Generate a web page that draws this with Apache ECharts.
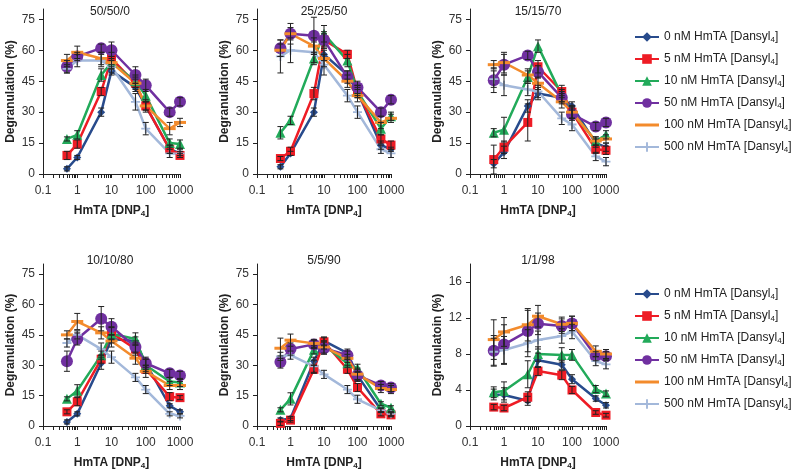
<!DOCTYPE html>
<html>
<head>
<meta charset="utf-8">
<script src="https://cdn.jsdelivr.net/npm/echarts@6/dist/echarts.min.js"></script>
<style>
  html, body { margin: 0; background: #fff; }
  #chart { width: 800px; height: 471px; }
</style>
</head>
<body>
<div id="chart"></div>
<script>
const doses = [0.5, 1, 5, 10, 50, 100, 500, 1000]
const seriesNames = [
  '0 nM HmTA [Dansyl4]',
  '5 nM HmTA [Dansyl4]',
  '10 nM HmTA [Dansyl4]',
  '50 nM HmTA [Dansyl4]',
  '100 nM HmTA [Dansyl4]',
  '500 nM HmTA [Dansyl4]'
]
const panelTitles = ['50/50/0', '25/25/50', '15/15/70', '10/10/80', '5/5/90', '1/1/98']
const xTicks = [0.1, 1, 10, 100, 1000]
const xMinorTicks = [0.2, 0.3, 0.4, 0.5, 0.6, 0.7, 0.8, 0.9, 2, 3, 4, 5, 6, 7, 8, 9,
  20, 30, 40, 50, 60, 70, 80, 90, 200, 300, 400, 500, 600, 700, 800, 900]
const yTicksPct = [0, 15, 30, 45, 60, 75]
const yTicksLow = [0, 4, 8, 12, 16]

// rows follow seriesNames order (0, 5, 10, 50, 100, 500 nM)
const deg50 = [
  [2.5, 8, 30, 50, 42, 33, 12, 10],
  [9, 14.5, 40, 56, 44, 33, 12, 9],
  [17, 19, 48, 54, 45, 38, 15, 14.5],
  [52, 57, 61, 60, 48, 43, 30, 35],
  [55, 59, 56, 54, 44, 33, 22, 25],
  [51, 55, 55, 52, 35, 22, 10, 10]
]
const err50 = [
  [1, 1, 2, 2, 2, 2, 2, 1],
  [2, 2, 2, 3, 2, 2, 2, 1],
  [1, 2, 3, 3, 3, 3, 2, 2],
  [3, 2, 2, 4, 4, 3, 2, 2],
  [3, 3, 3, 3, 3, 3, 3, 2],
  [2, 3, 3, 3, 4, 3, 2, 2]
]
const deg25 = [
  [3.5, 10, 30, 58, 48, 40, 14, 12],
  [7.5, 11, 39, 65, 58, 40, 17, 14],
  [20, 26, 56, 68, 55, 40, 22, 28],
  [61, 68, 67, 65, 47, 42, 30, 36],
  [60, 68, 62, 56, 45, 38, 25, 27],
  [57, 60, 59, 53, 38, 30, 12, 10]
]
const err25 = [
  [1, 1, 2, 3, 2, 2, 2, 1],
  [1, 2, 3, 3, 2, 3, 2, 2],
  [3, 2, 3, 4, 3, 3, 3, 2],
  [4, 3, 9, 4, 3, 3, 2, 2],
  [3, 5, 4, 4, 3, 3, 3, 2],
  [8, 6, 5, 5, 3, 3, 2, 2]
]
const deg15 = [
  [5, 10.5, 33, 39, 37, 33, 15, 13],
  [7, 13, 25, 52, 40, 30, 12, 11.5],
  [20, 21.5, 47, 62, 38, 30, 16, 19],
  [45.5, 53, 57.5, 49.5, 37, 29, 23, 25],
  [53, 54, 48, 44, 35, 30, 16, 17],
  [46, 43, 41, 40, 27, 24, 8.5, 6]
]
const err15 = [
  [2, 3, 3, 3, 2, 2, 2, 2],
  [7, 3, 9, 3, 3, 3, 2, 2],
  [2, 6, 3, 3, 3, 3, 2, 2],
  [6, 5, 2, 3, 3, 3, 2, 2],
  [2, 5, 3, 3, 3, 3, 2, 2],
  [4, 5, 3, 3, 3, 3, 2, 2]
]
const deg10 = [
  [2, 6, 31, 43, 42, 31, 10, 7],
  [7, 12, 33, 46, 38, 28, 14.5, 14],
  [13.4, 17.4, 35, 45.6, 43, 30, 22, 21.5],
  [32, 43, 53, 49, 39, 31, 26, 25],
  [45, 51.6, 46, 42, 33.5, 27, 20, 20],
  [41, 45, 38, 34, 24, 18, 6, 5]
]
const err10 = [
  [1, 1, 3, 2, 2, 2, 1, 1],
  [1, 2, 2, 3, 3, 2, 2, 1],
  [1, 3, 2, 3, 3, 3, 2, 2],
  [5, 3, 6, 4, 3, 3, 2, 2],
  [2, 4, 3, 3, 3, 3, 2, 2],
  [2, 2, 3, 3, 2, 2, 1, 1]
]
const deg5 = [
  [3, 3.7, 32, 42, 36, 25, 8, 6],
  [1.3, 2.9, 28, 41.6, 28, 19, 6, 5.5],
  [8, 13.4, 37.6, 40, 31, 28.5, 11, 9],
  [31.6, 38, 40.3, 38.4, 35, 25, 20, 19],
  [38.4, 42.4, 40.8, 39, 33.4, 25.6, 18.5, 18],
  [34.4, 35, 29.5, 25.5, 18, 13.2, 7.7, 6]
]
const err5 = [
  [1, 1, 2, 2, 2, 2, 1, 1],
  [1, 1, 2, 2, 2, 2, 1, 1],
  [1, 3, 2, 2, 2, 2, 1, 1],
  [3, 3, 2, 3, 2, 3, 2, 2],
  [5, 3, 2, 3, 2, 3, 2, 2],
  [2, 2, 3, 2, 2, 2, 1, 1]
]
const deg1 = [
  [3.5, 3.45, 2.8, 7.3, 6.8, 5.2, 3.05, 2.3],
  [2.1, 2.0, 3.2, 6.1, 5.65, 4.0, 1.5, 1.2],
  [3.75, 3.9, 5.75, 8.0, 7.9, 7.9, 4.1, 3.6],
  [8.35, 9.05, 10.55, 11.35, 11.1, 11.4, 7.75, 7.75],
  [9.6, 10.45, 11.25, 12.2, 11.3, 11.4, 8.3, 8.0],
  [8.25, 8.45, 9.2, 9.55, 10.0, 10.5, 7.2, 6.85]
]
const err1 = [
  [0.6, 0.8, 0.5, 0.8, 0.5, 0.5, 0.3, 0.3],
  [0.3, 0.3, 0.6, 0.5, 0.5, 0.4, 0.2, 0.2],
  [0.6, 1.0, 1.5, 0.8, 0.8, 0.6, 0.4, 0.3],
  [1.7, 2.2, 2.3, 1.2, 0.8, 0.8, 0.5, 0.5],
  [2.2, 1.6, 1.8, 1.2, 0.8, 0.8, 0.6, 0.5],
  [1.5, 1.5, 1.5, 1.0, 0.8, 0.8, 0.5, 0.5]
]

const panels = [
  { vals: deg50, errs: err50 },
  { vals: deg25, errs: err25 },
  { vals: deg15, errs: err15 },
  { vals: deg10, errs: err10 },
  { vals: deg5, errs: err5 },
  { vals: deg1, errs: err1 }
]

const FONT = "'Liberation Sans', Arial, sans-serif"
const colors = ['#284B8C', '#EE1C25', '#22AA5A', '#7030A0', '#F38B2C', '#A3B8DA']
const symbols = [
  'diamond', 'rect', 'triangle', 'circle',
  'path://M0,0H12V3H0Z',
  'path://M4,0H6V4H10V6H6V10H4V6H0V4H4Z'
]
const symbolSizes = [8, 9, 10, 12, 12, 9]

const colLeft = [43, 257, 470]
const colWidth = [137, 134, 136]
const rowTop = [9, 264]
const titleX = [110, 324, 538]
const titleTop = [6, 255]

const grids = [], xAxes = [], yAxes = [], series = [], titles = []

function errorBars(params, api) {
  const x = api.value(0)
  const lo = api.coord([x, api.value(1)])
  const hi = api.coord([x, api.value(2)])
  const w = 3
  const style = { stroke: '#222', lineWidth: 1 }
  return {
    type: 'group',
    children: [
      { type: 'line', shape: { x1: lo[0], y1: lo[1], x2: hi[0], y2: hi[1] }, style },
      { type: 'line', shape: { x1: hi[0] - w, y1: hi[1], x2: hi[0] + w, y2: hi[1] }, style },
      { type: 'line', shape: { x1: lo[0] - w, y1: lo[1], x2: lo[0] + w, y2: lo[1] }, style }
    ]
  }
}

panels.forEach((p, i) => {
  const col = i % 3
  const row = Math.floor(i / 3)
  const low = i === 5
  grids.push({ left: colLeft[col], top: rowTop[row], width: colWidth[col], height: 165 })
  titles.push({
    text: panelTitles[i],
    left: titleX[col],
    top: titleTop[row],
    textAlign: 'center',
    padding: 0,
    textStyle: { fontFamily: FONT, fontSize: 12, fontWeight: 'normal', color: '#222' }
  })
  xAxes.push({
    type: 'log',
    logBase: 10,
    gridIndex: i,
    min: 0.1,
    max: 1000,
    position: 'bottom',
    name: '{b|HmTA [DNP}{s|4}{b|]}',
    nameLocation: 'middle',
    nameGap: 30,
    nameTextStyle: {
      rich: {
        b: { fontFamily: FONT, fontSize: 12, fontWeight: 'bold', color: '#222' },
        s: { fontFamily: FONT, fontSize: 8, fontWeight: 'bold', color: '#222', verticalAlign: 'bottom', padding: [6, 0, 0, 0] }
      }
    },
    axisLine: { show: true, onZero: false, lineStyle: { color: '#222', width: 1 } },
    axisTick: { show: false },
    axisLabel: {
      customValues: xTicks,
      margin: 11,
      fontFamily: FONT,
      fontSize: 12,
      color: '#333',
      formatter: v => String(v)
    },
    splitLine: { show: false }
  })
  // tick marks of the log axis, laid on a decade (log10) scale of the same grid
  xAxes.push({
    type: 'value',
    gridIndex: i,
    min: -1,
    max: 3,
    position: 'bottom',
    axisLine: { show: true, onZero: false, lineStyle: { color: '#222', width: 1 } },
    axisTick: {
      show: true,
      customValues: xTicks.concat(xMinorTicks).map(Math.log10),
      length: 4,
      lineStyle: { color: '#222', width: 1 }
    },
    axisLabel: { show: false },
    splitLine: { show: false }
  })
  yAxes.push({
    type: 'value',
    gridIndex: i,
    min: 0,
    max: low ? 18 : 80,
    interval: low ? 4 : 15,
    name: low ? 'Degranulatoin (%)' : 'Degranulation (%)',
    nameLocation: 'middle',
    nameGap: 26,
    nameTextStyle: { fontFamily: FONT, fontSize: 12, fontWeight: 'bold', color: '#222' },
    axisLine: { show: true, onZero: false, lineStyle: { color: '#222', width: 1 } },
    axisTick: { show: true, customValues: low ? yTicksLow : yTicksPct, length: 4, lineStyle: { color: '#222' } },
    axisLabel: {
      customValues: low ? yTicksLow : yTicksPct,
      margin: 8,
      fontFamily: FONT,
      fontSize: 12,
      color: '#333'
    },
    splitLine: { show: false }
  })
  p.vals.forEach((vals, s) => {
    series.push({
      type: 'line',
      name: seriesNames[s],
      xAxisIndex: 2 * i,
      yAxisIndex: i,
      data: doses.map((d, k) => [d, vals[k]]),
      symbol: symbols[s],
      symbolSize: symbolSizes[s],
      symbolKeepAspect: true,
      showAllSymbol: true,
      lineStyle: { color: colors[s], width: 2.5 },
      itemStyle: { color: colors[s] },
      emphasis: { disabled: true },
      z: 2
    })
  })
  const bars = []
  p.vals.forEach((vals, s) => {
    vals.forEach((v, k) => {
      bars.push([doses[k], Math.max(0, v - p.errs[s][k]), v + p.errs[s][k]])
    })
  })
  series.push({
    type: 'custom',
    xAxisIndex: 2 * i,
    yAxisIndex: i,
    renderItem: errorBars,
    encode: { x: 0, y: [1, 2] },
    data: bars,
    silent: true,
    z: 3
  })
})

function legendFormat(name) {
  return '{t|' + name.slice(0, -2) + '}{s|4}{t|]}'
}
const legendText = {
  fontFamily: FONT,
  fontSize: 12,
  color: '#222',
  rich: {
    t: { fontFamily: FONT, fontSize: 12, color: '#222' },
    s: { fontFamily: FONT, fontSize: 8, color: '#222', verticalAlign: 'bottom', padding: [6, 0, 0, 0] }
  }
}
// the 100 nM entry is drawn as a plain thick line, as in the original key
const legendItems = seriesNames.map((name, s) =>
  s === 4 ? { name, icon: 'path://M0,0H24V3H0Z' } : { name })
const legends = [26, 283].map(top => ({
  data: legendItems,
  orient: 'vertical',
  left: 629,
  top,
  itemWidth: 24,
  itemHeight: 12,
  itemGap: 9,
  formatter: legendFormat,
  textStyle: legendText,
  selectedMode: false
}))

const chart = echarts.init(document.getElementById('chart'), null, { renderer: 'canvas' })
chart.setOption({
  animation: false,
  backgroundColor: '#fff',
  title: titles,
  legend: legends,
  grid: grids,
  xAxis: xAxes,
  yAxis: yAxes,
  series
})
</script>
</body>
</html>
